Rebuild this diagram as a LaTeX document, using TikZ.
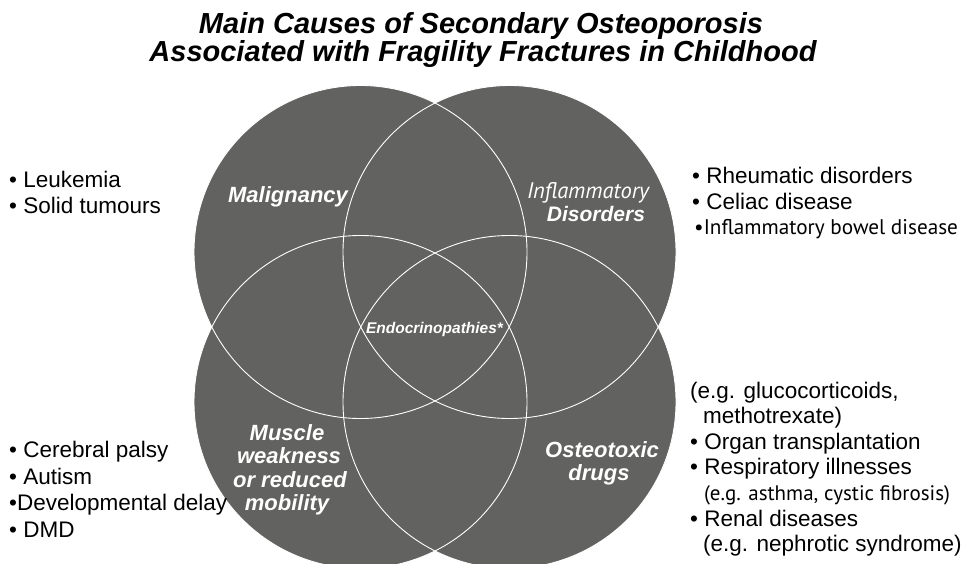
\documentclass[tikz,border=0pt]{standalone}
\usepackage{fontspec}
\setmainfont{Liberation Sans}
\newfontfamily\myr{PT Sans}
\usepackage{xcolor}
\definecolor{vgrey}{RGB}{98,98,96}

\begin{document}
\begin{tikzpicture}[x=1pt, y=-1pt,
    title/.style={anchor=base, inner sep=0pt, font=\fontsize{29}{34}\selectfont\bfseries\itshape},
    label/.style={anchor=base, inner sep=0pt, text=white, font=\fontsize{22}{26}\selectfont\bfseries\itshape},
    item/.style={anchor=base west, inner sep=0pt, font=\fontsize{22.5}{26}\selectfont}]
  \useasboundingbox (0,0) rectangle (963,564);

  % title
  \node[title] (t1) at (481,34) {Main Causes of Secondary Osteoporosis};
  \node[title] (t2) at (483,62) {Associated with Fragility Fractures in Childhood};

  % the four circles
  \fill[vgrey] (360.5,252) circle[radius=166.5pt];
  \fill[vgrey] (509.5,252) circle[radius=166.5pt];
  \fill[vgrey] (360.5,402) circle[radius=166.5pt];
  \fill[vgrey] (509.5,402) circle[radius=166.5pt];
  \draw[white, line width=0.9pt] (360.5,252) circle[radius=166.5pt];
  \draw[white, line width=0.9pt] (509.5,252) circle[radius=166.5pt];
  \draw[white, line width=0.9pt] (360.5,402) circle[radius=166.5pt];
  \draw[white, line width=0.9pt] (509.5,402) circle[radius=166.5pt];

  % labels in the circles
  \node[label] (mal) at (288,202) {Malignancy};
  \node[label, font=\fontsize{22.5}{26}\selectfont\myr\itshape] (inf) at (588,198) {Inflammatory};
  \node[label, font=\fontsize{21}{25}\selectfont\bfseries\itshape] (dis) at (596,222) {Disorders};
  \node[label, font=\fontsize{15.5}{18}\selectfont\bfseries\itshape] (endo) at (434.5,333) {Endocrinopathies*};
  \node[label] (mus1) at (287,440) {Muscle};
  \node[label] (mus2) at (289,463) {weakness};
  \node[label] (mus3) at (290,487) {or reduced};
  \node[label] (mus4) at (287,510) {mobility};
  \node[label] (ost1) at (602,457) {Osteotoxic};
  \node[label] (ost2) at (599,480) {drugs};

  % malignancy
  \node[item] (leu) at (9,187) {• Leukemia};
  \node[item] (sol) at (9,213) {• Solid tumours};

  % inflammatory disorders
  \node[item] (rhe) at (692,183) {• Rheumatic disorders};
  \node[item] (cel) at (692,209) {• Celiac disease};
  \node[item, font=\fontsize{21.2}{25}\selectfont\myr] (ibd) at (694,234) {•Inflammatory bowel disease};

  % muscle weakness
  \node[item] (cp) at (9,457) {• Cerebral palsy};
  \node[item] (aut) at (9,484) {• Autism};
  \node[item] (dev) at (9,510) {•Developmental delay};
  \node[item] (dmd) at (9,537) {• DMD};

  % osteotoxic drugs
  \node[item] (glu) at (690,398) {(e.g. glucocorticoids,};
  \node[item] (met) at (703,423) {methotrexate)};
  \node[item] (org) at (690,449) {• Organ transplantation};
  \node[item] (res) at (690,474) {• Respiratory illnesses};
  \node[item, font=\fontsize{21}{25}\selectfont\myr] (ast) at (704,500) {(e.g. asthma, cystic fibrosis)};
  \node[item] (ren) at (690,526) {• Renal diseases};
  \node[item] (nep) at (703,551) {(e.g. nephrotic syndrome)};
\end{tikzpicture}
\end{document}
